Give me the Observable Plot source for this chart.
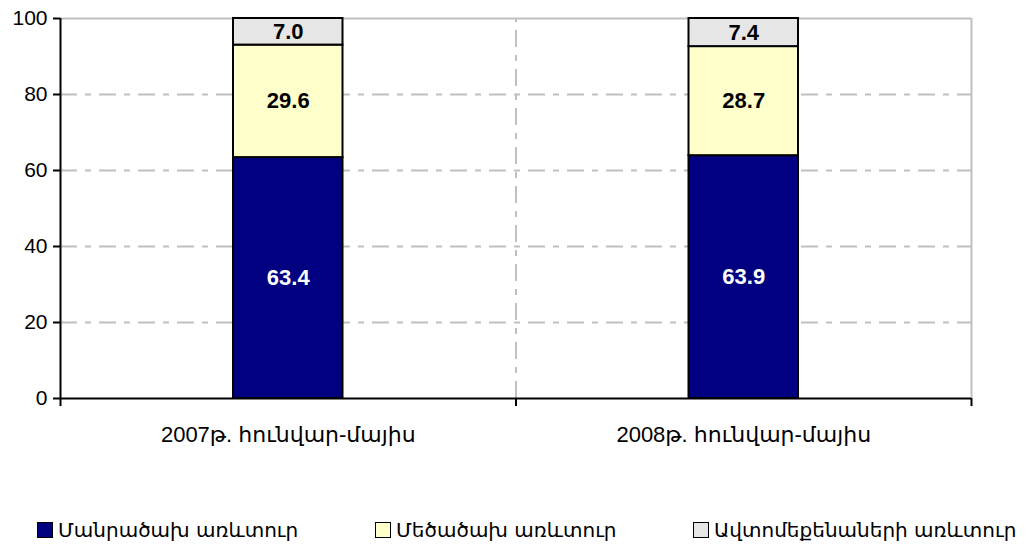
<!DOCTYPE html>
<html>
<head>
<meta charset="utf-8">
<script src="https://cdn.jsdelivr.net/npm/d3@7"></script>
<script src="https://cdn.jsdelivr.net/npm/@observablehq/plot@0.6"></script>
<style>
  html, body { margin: 0; padding: 0; background: #fff; }
  body { width: 1031px; height: 547px; overflow: hidden; font-family: "Liberation Sans", Arial, "DejaVu Sans", sans-serif; }
  #chart svg { display: block; }
  #legend { position: relative; height: 30px; margin-top: 9px; font-family: "DejaVu Sans", sans-serif; font-size: 20px; color: #000; }
  .item { position: absolute; top: 0; display: flex; align-items: center; height: 30px; white-space: nowrap; }
  .sw { width: 16px; height: 16px; border: 1.5px solid #000; margin-right: 5px; box-sizing: border-box; flex: none; }
</style>
</head>
<body>
<div id="chart"></div>
<div id="legend"></div>
<script>
const categories = ["2007թ. հունվար-մայիս", "2008թ. հունվար-մայիս"];
const seriesNames = ["Մանրածախ առևտուր", "Մեծածախ առևտուր", "Ավտոմեքենաների առևտուր"];
const retail = [63.4, 63.9];
const wholesale = [29.6, 28.7];
const autos = [7.0, 7.4];
const seriesColors = ["#000080", "#ffffcc", "#e6e6e6"];
const labelColors = ["#ffffff", "#000000", "#000000"];
const yTicks = [0, 20, 40, 60, 80, 100];

const seriesValues = [retail, wholesale, autos];
const data = [];
seriesNames.forEach((s, si) => {
  categories.forEach((c, ci) => {
    data.push({series: s, si, category: c, ci, value: seriesValues[si][ci]});
  });
});

const W = 1031, H = 506;
const grid = "#c0c0c0";

const chart = Plot.plot({
  width: W,
  height: H,
  marginLeft: 60,
  marginRight: 60,
  marginTop: 18,
  marginBottom: H - 398,
  style: {fontFamily: "'Liberation Sans', Arial, 'DejaVu Sans', sans-serif", fontSize: "21px", background: "#fff"},
  x: {type: "linear", domain: [0, categories.length], axis: null},
  y: {domain: [0, 100], axis: null},
  color: {domain: seriesNames, range: seriesColors},
  marks: [
    Plot.ruleY(yTicks.filter(t => t > 0 && t < 100), {stroke: grid, strokeWidth: 2, strokeDasharray: "17,8,6,8"}),
    Plot.ruleY([100], {stroke: grid, strokeWidth: 2}),
    Plot.ruleX(d3.range(1, categories.length), {y1: 0, y2: 100, stroke: grid, strokeWidth: 2, strokeDasharray: "17,8,6,8"}),
    Plot.ruleX([categories.length], {y1: 0, y2: 100, stroke: grid, strokeWidth: 2}),
    Plot.rectY(data, {
      x1: d => d.ci, x2: d => d.ci + 1, y: "value", fill: "series",
      stroke: "#000", strokeWidth: 2, insetLeft: 173, insetRight: 173
    }),
    Plot.text(data, Plot.stackY({
      x: d => d.ci + 0.5, y: "value", text: d => d.value.toFixed(1),
      fill: d => labelColors[d.si], fontWeight: "bold", fontSize: 22
    })),
    Plot.ruleX([0], {y1: 0, y2: 100, stroke: "#000", strokeWidth: 2}),
    Plot.ruleY([0], {stroke: "#000", strokeWidth: 2}),
    Plot.axisY({ticks: yTicks, label: null, tickSize: 7, tickPadding: 6, tickFormat: d => String(d), stroke: "#000", strokeWidth: 2, fill: "#000", fontSize: 21}),
    Plot.axisX({ticks: d3.range(0, categories.length + 1), label: null, tickSize: 8, tickFormat: () => "", stroke: "#000", strokeWidth: 2}),
    Plot.axisX({ticks: categories.map((c, i) => i + 0.5), label: null, tickSize: 0, tickPadding: 28, tickFormat: d => categories[Math.floor(d)], fill: "#000", fontSize: 22})
  ]
});
document.getElementById("chart").appendChild(chart);

const legendX = [37, 375, 693];
const legend = document.getElementById("legend");
seriesNames.forEach((s, i) => {
  const it = document.createElement("div");
  it.className = "item";
  it.style.left = legendX[i] + "px";
  const sw = document.createElement("div");
  sw.className = "sw";
  sw.style.background = seriesColors[i];
  const tx = document.createElement("span");
  tx.textContent = s;
  it.appendChild(sw);
  it.appendChild(tx);
  legend.appendChild(it);
});
</script>
</body>
</html>
